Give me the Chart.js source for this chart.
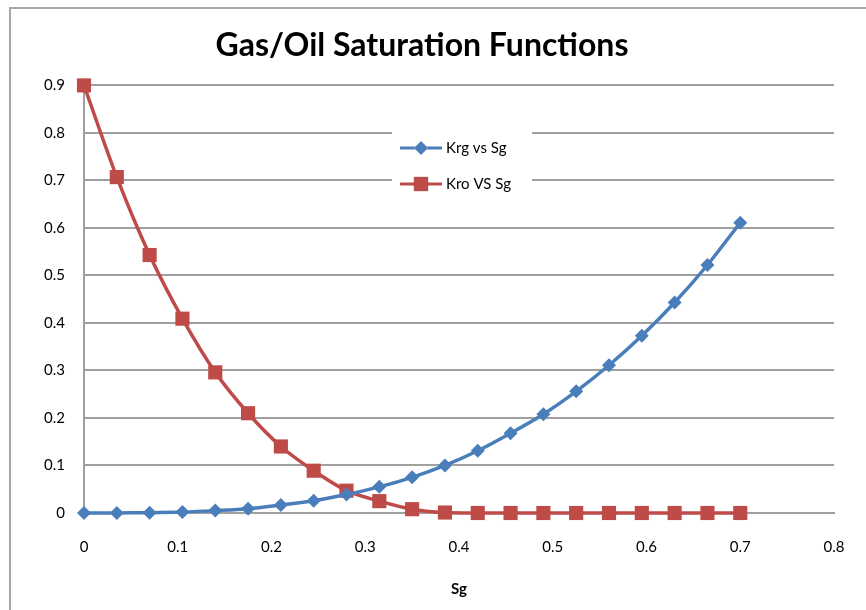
<!DOCTYPE html>
<html>
<head>
<meta charset="utf-8">
<script src="https://cdn.jsdelivr.net/npm/chart.js@4"></script>
<style>
  html, body { margin:0; padding:0; background:#fff; }
  #wrap { width:866px; height:610px; }
</style>
</head>
<body>
<div id="wrap"><canvas id="chart" width="866" height="610"></canvas></div>
<script>
// Gas/Oil saturation functions
const sg  = [0, 0.035, 0.07, 0.105, 0.14, 0.175, 0.21, 0.245, 0.28, 0.315, 0.35,
             0.385, 0.42, 0.455, 0.49, 0.525, 0.56, 0.595, 0.63, 0.665, 0.70];
const krg = [0, 0.0001, 0.0006, 0.002, 0.005, 0.009, 0.017, 0.026, 0.039, 0.055, 0.075,
             0.100, 0.131, 0.168, 0.208, 0.256, 0.311, 0.373, 0.443, 0.522, 0.611];
const kro = [0.9, 0.707, 0.543, 0.409, 0.296, 0.210, 0.140, 0.089, 0.047, 0.025, 0.008,
             0.001, 0, 0, 0, 0, 0, 0, 0, 0, 0];
const seriesNames = ['Krg vs Sg', 'Kro VS Sg'];
const xTicks = [0, 0.1, 0.2, 0.3, 0.4, 0.5, 0.6, 0.7, 0.8];
const yTicks = [0, 0.1, 0.2, 0.3, 0.4, 0.5, 0.6, 0.7, 0.8, 0.9];

const BLUE = '#4a7ebb', RED = '#be4b48';
const FONT = 'Lato, "Open Sans", sans-serif';

const pts = ys => sg.map((x, i) => ({ x, y: ys[i] }));

// outer frame (only top + left visible in the reference)
const framePlugin = {
  id: 'frame',
  beforeDraw(chart) {
    const c = chart.ctx;
    c.save();
    c.strokeStyle = '#a6a6a6';
    c.lineWidth = 2;
    c.beginPath();
    c.moveTo(10, 610); c.lineTo(10, 8); c.lineTo(866, 8);
    c.stroke();
    c.restore();
  }
};

// legend sits inside the plot, on a white box that hides the grid
const legendPlugin = {
  id: 'innerLegend',
  afterDatasetsDraw(chart) {
    const c = chart.ctx;
    c.save();
    c.fillStyle = '#fff';
    c.fillRect(392, 128, 140, 70);
    chart.data.datasets.forEach((ds, i) => {
      const y = 148 + i * 36;
      c.strokeStyle = ds.borderColor;
      c.lineWidth = 3;
      c.beginPath(); c.moveTo(400, y); c.lineTo(442, y); c.stroke();
      Chart.helpers.drawPoint(c, {
        pointStyle: ds.pointStyle, radius: ds.pointRadius, borderWidth: 0
      }, 421, y);
      c.fillStyle = ds.pointBackgroundColor;
      c.fill();
      c.fillStyle = '#000';
      c.font = '15px ' + FONT;
      c.textBaseline = 'middle';
      c.fillText(ds.label, 446, y);
    });
    c.restore();
  }
};

new Chart(document.getElementById('chart'), {
  type: 'scatter',
  data: {
    datasets: [
      { label: seriesNames[0], data: pts(krg), showLine: true, clip: false,
        borderColor: BLUE, backgroundColor: BLUE, pointBackgroundColor: BLUE,
        borderWidth: 3.5, pointStyle: 'rectRot', pointRadius: 7, pointBorderWidth: 0,
        tension: 0.3 },
      { label: seriesNames[1], data: pts(kro), showLine: true, clip: false,
        borderColor: RED, backgroundColor: RED, pointBackgroundColor: RED,
        borderWidth: 3.5, pointStyle: 'rect', pointRadius: 10, pointBorderWidth: 0,
        tension: 0.3 }
    ]
  },
  options: {
    responsive: false,
    animation: false,
    layout: { autoPadding: false, padding: { left: 10, right: 32, top: 0, bottom: 0 } },
    plugins: {
      legend: { display: false },
      tooltip: { enabled: false },
      title: {
        display: true,
        text: 'Gas/Oil Saturation Functions',
        color: '#000',
        font: { family: FONT, size: 32, weight: 'bold' },
        padding: { top: 26, bottom: 21 }
      }
    },
    scales: {
      x: {
        type: 'linear', min: 0, max: 0.8,
        afterBuildTicks: s => { s.ticks = xTicks.map(v => ({ value: v })); },
        afterFit: s => { s.height = 97; s.paddingRight = 0; },
        grid: { display: false, drawTicks: false },
        border: { display: true, color: '#a0a0a0', width: 2 },
        ticks: { color: '#000', font: { family: FONT, size: 15 }, padding: 25,
                 callback: v => String(v) },
        title: { display: true, text: 'Sg', color: '#000',
                 font: { family: FONT, size: 15, weight: 'bold' },
                 padding: { top: 8, bottom: 12 } }
      },
      y: {
        type: 'linear', min: 0, max: 0.9,
        afterBuildTicks: s => { s.ticks = yTicks.map(v => ({ value: v })); },
        afterFit: s => { s.width = 74; },
        grid: { color: '#a0a0a0', lineWidth: 2, drawTicks: false },
        border: { display: true, color: '#a0a0a0', width: 2 },
        ticks: { color: '#000', font: { family: FONT, size: 15 }, padding: 19,
                 callback: v => String(v) }
      }
    }
  },
  plugins: [framePlugin, legendPlugin]
});
</script>
</body>
</html>
